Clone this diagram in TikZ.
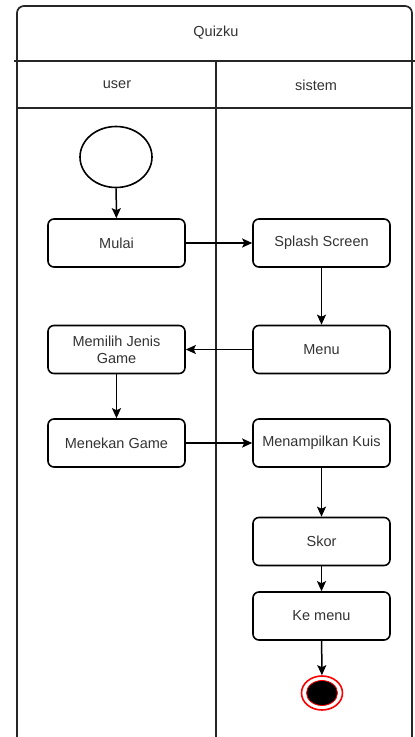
\documentclass[tikz,border=0pt]{standalone}
\usepackage{fontspec}
\setmainfont{Liberation Sans}
\usetikzlibrary{shapes.geometric,arrows.meta}

\begin{document}
\begin{tikzpicture}[
  x=1pt, y=-1pt,
  lane/.style={line width=1.7pt, black!85},
  activity/.style={draw, rounded corners=6pt, line width=1.6pt, align=center,
    minimum width=137pt, minimum height=48pt, inner sep=2pt,
    font=\fontsize{14.5}{17}\selectfont, text=black!80},
  heading/.style={font=\fontsize{14.5}{17}\selectfont, text=black!80},
  arrow/.style={-{Stealth[length=10pt, width=9pt, inset=2pt]}, line width=1.5pt},
]
\useasboundingbox (0,0) rectangle (415,737);
\clip (0,0) rectangle (415,737);

% === Swimlane frame ===
\draw[lane, rounded corners=7pt] (17,780) -- (17,6) -- (412,6) -- (412,780);
\draw[lane] (14,61) -- (415,61);
\draw[lane] (17,108) -- (412,108);
\draw[lane] (216,61) -- (216,780);
\node[heading] (title) at (216,33) {Quizku};
\node[heading] (laneuser) at (117,85) {user};
\node[heading] (lanesistem) at (316,85) {sistem};

% === Lane: user ===
\node[ellipse, draw, line width=1.6pt, minimum width=72pt, minimum height=61pt] (start) at (116,157) {};
\node[activity] (mulai) at (116.5,243) {Mulai};
\node[activity] (memilih) at (116.5,349.5) {Memilih Jenis\\Game};
\node[activity] (menekan) at (116.5,443) {Menekan Game};

% === Lane: sistem ===
\node[activity] (splash) at (321.5,243) {Splash Screen};
\node[activity] (menu) at (321.5,349.5) {Menu};
\node[activity] (kuis) at (321.5,443) {Menampilkan Kuis};
\node[activity] (skor) at (321.5,541.5) {Skor};
\node[activity] (kemenu) at (321.5,616) {Ke menu};
\node[ellipse, draw=red, line width=1.6pt, fill=white, minimum width=41pt, minimum height=34pt] (end) at (322,693) {};
\node[ellipse, draw=red, line width=0.8pt, fill=black, minimum width=31pt, minimum height=25pt] (endcore) at (end.center) {};

% === Flow ===
\draw[arrow] (start) -- (mulai);
\draw[arrow] (mulai) -- (splash);
\draw[arrow] (splash) -- (menu);
\draw[arrow] (menu) -- (memilih);
\draw[arrow] (memilih) -- (menekan);
\draw[arrow] (menekan) -- (kuis);
\draw[arrow] (kuis) -- (skor);
\draw[arrow] (skor) -- (kemenu);
\draw[arrow] (kemenu) -- (end);

\end{tikzpicture}
\end{document}
